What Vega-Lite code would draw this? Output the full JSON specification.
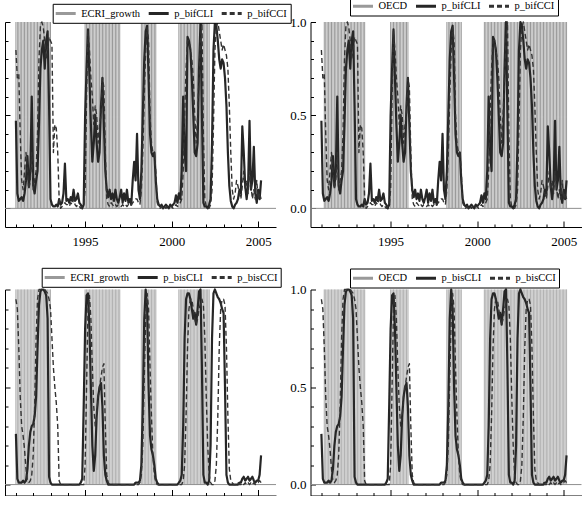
{
  "$schema": "https://vega.github.io/schema/vega-lite/v6.json",
  "padding": {"left": 4, "top": -4, "right": 0, "bottom": 0},
  "columns": 2,
  "spacing": {"row": 62.5, "column": 34.5},
  "bounds": "flush",
  "resolve": {"scale": {"color": "independent", "strokeDash": "independent"}},
  "datasets": {
    "monthly": [
      {"year":1991,"p_bifCLI":0.47,"p_bifCCI":0.85,"p_bisCLI":0.26,"p_bisCCI":0.95,"ECRI_growth":1,"OECD":0},
      {"year":1991.083,"p_bifCLI":0.08,"p_bifCCI":0.7,"p_bisCLI":0.03,"p_bisCCI":0.9,"ECRI_growth":1,"OECD":0},
      {"year":1991.167,"p_bifCLI":0.04,"p_bifCCI":0.72,"p_bisCLI":0.01,"p_bisCCI":0.7,"ECRI_growth":1,"OECD":1},
      {"year":1991.25,"p_bifCLI":0.05,"p_bifCCI":0.4,"p_bisCLI":0.01,"p_bisCCI":0.45,"ECRI_growth":1,"OECD":1},
      {"year":1991.333,"p_bifCLI":0.06,"p_bifCCI":0.15,"p_bisCLI":0.01,"p_bisCCI":0.3,"ECRI_growth":1,"OECD":1},
      {"year":1991.417,"p_bifCLI":0.04,"p_bifCCI":0.1,"p_bisCLI":0.02,"p_bisCCI":0.25,"ECRI_growth":1,"OECD":1},
      {"year":1991.5,"p_bifCLI":0.08,"p_bifCCI":0.2,"p_bisCLI":0.01,"p_bisCCI":0.18,"ECRI_growth":1,"OECD":1},
      {"year":1991.583,"p_bifCLI":0.15,"p_bifCCI":0.3,"p_bisCLI":0.02,"p_bisCCI":0.08,"ECRI_growth":1,"OECD":1},
      {"year":1991.667,"p_bifCLI":0.28,"p_bifCCI":0.2,"p_bisCLI":0.08,"p_bisCCI":0.02,"ECRI_growth":1,"OECD":1},
      {"year":1991.75,"p_bifCLI":0.12,"p_bifCCI":0.1,"p_bisCLI":0.2,"p_bisCCI":0.01,"ECRI_growth":1,"OECD":1},
      {"year":1991.833,"p_bifCLI":0.2,"p_bifCCI":0.15,"p_bisCLI":0.27,"p_bisCCI":0.02,"ECRI_growth":1,"OECD":1},
      {"year":1991.917,"p_bifCLI":0.6,"p_bifCCI":0.3,"p_bisCLI":0.3,"p_bisCCI":0.05,"ECRI_growth":1,"OECD":1},
      {"year":1992,"p_bifCLI":0.12,"p_bifCCI":0.1,"p_bisCLI":0.31,"p_bisCCI":0.15,"ECRI_growth":1,"OECD":1},
      {"year":1992.083,"p_bifCLI":0.08,"p_bifCCI":0.15,"p_bisCLI":0.35,"p_bisCCI":0.4,"ECRI_growth":1,"OECD":1},
      {"year":1992.167,"p_bifCLI":0.15,"p_bifCCI":0.2,"p_bisCLI":0.45,"p_bisCCI":0.75,"ECRI_growth":1,"OECD":1},
      {"year":1992.25,"p_bifCLI":0.2,"p_bifCCI":0.4,"p_bisCLI":0.7,"p_bisCCI":0.95,"ECRI_growth":1,"OECD":1},
      {"year":1992.333,"p_bifCLI":0.45,"p_bifCCI":0.8,"p_bisCLI":0.92,"p_bisCCI":1,"ECRI_growth":1,"OECD":1},
      {"year":1992.417,"p_bifCLI":0.75,"p_bifCCI":0.98,"p_bisCLI":0.99,"p_bisCCI":1,"ECRI_growth":1,"OECD":1},
      {"year":1992.5,"p_bifCLI":0.85,"p_bifCCI":1,"p_bisCLI":1,"p_bisCCI":1,"ECRI_growth":1,"OECD":1},
      {"year":1992.583,"p_bifCLI":0.9,"p_bifCCI":0.97,"p_bisCLI":1,"p_bisCCI":1,"ECRI_growth":1,"OECD":1},
      {"year":1992.667,"p_bifCLI":0.75,"p_bifCCI":0.9,"p_bisCLI":0.99,"p_bisCCI":1,"ECRI_growth":1,"OECD":1},
      {"year":1992.75,"p_bifCLI":0.9,"p_bifCCI":0.8,"p_bisCLI":0.97,"p_bisCCI":0.99,"ECRI_growth":1,"OECD":1},
      {"year":1992.833,"p_bifCLI":0.95,"p_bifCCI":0.85,"p_bisCLI":0.85,"p_bisCCI":0.98,"ECRI_growth":1,"OECD":1},
      {"year":1992.917,"p_bifCLI":0.55,"p_bifCCI":0.92,"p_bisCLI":0.04,"p_bisCCI":0.95,"ECRI_growth":1,"OECD":1},
      {"year":1993,"p_bifCLI":0.05,"p_bifCCI":0.9,"p_bisCLI":0.01,"p_bisCCI":0.9,"ECRI_growth":1,"OECD":1},
      {"year":1993.083,"p_bifCLI":0.02,"p_bifCCI":0.88,"p_bisCLI":0,"p_bisCCI":0.75,"ECRI_growth":0,"OECD":1},
      {"year":1993.167,"p_bifCLI":0.01,"p_bifCCI":0.3,"p_bisCLI":0,"p_bisCCI":0.6,"ECRI_growth":0,"OECD":1},
      {"year":1993.25,"p_bifCLI":0.01,"p_bifCCI":0.45,"p_bisCLI":0,"p_bisCCI":0.5,"ECRI_growth":0,"OECD":1},
      {"year":1993.333,"p_bifCLI":0.02,"p_bifCCI":0.43,"p_bisCLI":0,"p_bisCCI":0.42,"ECRI_growth":0,"OECD":1},
      {"year":1993.417,"p_bifCLI":0.01,"p_bifCCI":0.3,"p_bisCLI":0,"p_bisCCI":0.3,"ECRI_growth":0,"OECD":1},
      {"year":1993.5,"p_bifCLI":0.05,"p_bifCCI":0.05,"p_bisCLI":0,"p_bisCCI":0.02,"ECRI_growth":0,"OECD":1},
      {"year":1993.583,"p_bifCLI":0.02,"p_bifCCI":0,"p_bisCLI":0,"p_bisCCI":0,"ECRI_growth":0,"OECD":0},
      {"year":1993.667,"p_bifCLI":0.03,"p_bifCCI":0.01,"p_bisCLI":0,"p_bisCCI":0,"ECRI_growth":0,"OECD":0},
      {"year":1993.75,"p_bifCLI":0.08,"p_bifCCI":0.02,"p_bisCLI":0,"p_bisCCI":0,"ECRI_growth":0,"OECD":0},
      {"year":1993.833,"p_bifCLI":0.24,"p_bifCCI":0.03,"p_bisCLI":0,"p_bisCCI":0,"ECRI_growth":0,"OECD":0},
      {"year":1993.917,"p_bifCLI":0.04,"p_bifCCI":0.02,"p_bisCLI":0,"p_bisCCI":0,"ECRI_growth":0,"OECD":0},
      {"year":1994,"p_bifCLI":0.05,"p_bifCCI":0.02,"p_bisCLI":0,"p_bisCCI":0,"ECRI_growth":0,"OECD":0},
      {"year":1994.083,"p_bifCLI":0.03,"p_bifCCI":0.01,"p_bisCLI":0,"p_bisCCI":0,"ECRI_growth":0,"OECD":0},
      {"year":1994.167,"p_bifCLI":0.06,"p_bifCCI":0.03,"p_bisCLI":0,"p_bisCCI":0,"ECRI_growth":0,"OECD":0},
      {"year":1994.25,"p_bifCLI":0.04,"p_bifCCI":0.02,"p_bisCLI":0,"p_bisCCI":0,"ECRI_growth":0,"OECD":0},
      {"year":1994.333,"p_bifCLI":0.1,"p_bifCCI":0.05,"p_bisCLI":0,"p_bisCCI":0,"ECRI_growth":0,"OECD":0},
      {"year":1994.417,"p_bifCLI":0.04,"p_bifCCI":0.02,"p_bisCLI":0,"p_bisCCI":0,"ECRI_growth":0,"OECD":0},
      {"year":1994.5,"p_bifCLI":0.05,"p_bifCCI":0.01,"p_bisCLI":0,"p_bisCCI":0,"ECRI_growth":0,"OECD":0},
      {"year":1994.583,"p_bifCLI":0.08,"p_bifCCI":0.02,"p_bisCLI":0,"p_bisCCI":0,"ECRI_growth":0,"OECD":0},
      {"year":1994.667,"p_bifCLI":0.03,"p_bifCCI":0.01,"p_bisCLI":0,"p_bisCCI":0,"ECRI_growth":0,"OECD":0},
      {"year":1994.75,"p_bifCLI":0.02,"p_bifCCI":0,"p_bisCLI":0.01,"p_bisCCI":0,"ECRI_growth":0,"OECD":0},
      {"year":1994.833,"p_bifCLI":0,"p_bifCCI":0.01,"p_bisCLI":0.03,"p_bisCCI":0,"ECRI_growth":0,"OECD":0},
      {"year":1994.917,"p_bifCLI":0.02,"p_bifCCI":0.02,"p_bisCLI":0.4,"p_bisCCI":0,"ECRI_growth":0,"OECD":0},
      {"year":1995,"p_bifCLI":0.5,"p_bifCCI":0.1,"p_bisCLI":0.8,"p_bisCCI":0.1,"ECRI_growth":1,"OECD":1},
      {"year":1995.083,"p_bifCLI":0.75,"p_bifCCI":0.6,"p_bisCLI":0.97,"p_bisCCI":0.5,"ECRI_growth":1,"OECD":1},
      {"year":1995.167,"p_bifCLI":0.96,"p_bifCCI":0.95,"p_bisCLI":0.98,"p_bisCCI":0.9,"ECRI_growth":1,"OECD":1},
      {"year":1995.25,"p_bifCLI":0.7,"p_bifCCI":0.85,"p_bisCLI":0.8,"p_bisCCI":0.97,"ECRI_growth":1,"OECD":1},
      {"year":1995.333,"p_bifCLI":0.45,"p_bifCCI":0.7,"p_bisCLI":0.5,"p_bisCCI":0.85,"ECRI_growth":1,"OECD":1},
      {"year":1995.417,"p_bifCLI":0.25,"p_bifCCI":0.6,"p_bisCLI":0.2,"p_bisCCI":0.6,"ECRI_growth":1,"OECD":1},
      {"year":1995.5,"p_bifCLI":0.35,"p_bifCCI":0.45,"p_bisCLI":0.07,"p_bisCCI":0.4,"ECRI_growth":1,"OECD":1},
      {"year":1995.583,"p_bifCLI":0.5,"p_bifCCI":0.55,"p_bisCLI":0.15,"p_bisCCI":0.3,"ECRI_growth":1,"OECD":1},
      {"year":1995.667,"p_bifCLI":0.35,"p_bifCCI":0.5,"p_bisCLI":0.35,"p_bisCCI":0.35,"ECRI_growth":1,"OECD":1},
      {"year":1995.75,"p_bifCLI":0.25,"p_bifCCI":0.35,"p_bisCLI":0.45,"p_bisCCI":0.45,"ECRI_growth":1,"OECD":1},
      {"year":1995.833,"p_bifCLI":0.3,"p_bifCCI":0.45,"p_bisCLI":0.5,"p_bisCCI":0.5,"ECRI_growth":1,"OECD":1},
      {"year":1995.917,"p_bifCLI":0.55,"p_bifCCI":0.5,"p_bisCLI":0.52,"p_bisCCI":0.55,"ECRI_growth":1,"OECD":1},
      {"year":1996,"p_bifCLI":0.7,"p_bifCCI":0.7,"p_bisCLI":0.4,"p_bisCCI":0.6,"ECRI_growth":1,"OECD":1},
      {"year":1996.083,"p_bifCLI":0.45,"p_bifCCI":0.65,"p_bisCLI":0.15,"p_bisCCI":0.62,"ECRI_growth":1,"OECD":0},
      {"year":1996.167,"p_bifCLI":0.2,"p_bifCCI":0.3,"p_bisCLI":0.05,"p_bisCCI":0.3,"ECRI_growth":1,"OECD":0},
      {"year":1996.25,"p_bifCLI":0.1,"p_bifCCI":0.05,"p_bisCLI":0.02,"p_bisCCI":0.05,"ECRI_growth":1,"OECD":0},
      {"year":1996.333,"p_bifCLI":0.06,"p_bifCCI":0.02,"p_bisCLI":0,"p_bisCCI":0.01,"ECRI_growth":1,"OECD":0},
      {"year":1996.417,"p_bifCLI":0.1,"p_bifCCI":0.01,"p_bisCLI":0,"p_bisCCI":0,"ECRI_growth":1,"OECD":0},
      {"year":1996.5,"p_bifCLI":0.05,"p_bifCCI":0.03,"p_bisCLI":0,"p_bisCCI":0,"ECRI_growth":1,"OECD":0},
      {"year":1996.583,"p_bifCLI":0.08,"p_bifCCI":0.02,"p_bisCLI":0,"p_bisCCI":0,"ECRI_growth":1,"OECD":0},
      {"year":1996.667,"p_bifCLI":0.04,"p_bifCCI":0.01,"p_bisCLI":0,"p_bisCCI":0,"ECRI_growth":1,"OECD":0},
      {"year":1996.75,"p_bifCLI":0.1,"p_bifCCI":0.02,"p_bisCLI":0,"p_bisCCI":0,"ECRI_growth":1,"OECD":0},
      {"year":1996.833,"p_bifCLI":0.05,"p_bifCCI":0.01,"p_bisCLI":0,"p_bisCCI":0,"ECRI_growth":1,"OECD":0},
      {"year":1996.917,"p_bifCLI":0.03,"p_bifCCI":0.02,"p_bisCLI":0,"p_bisCCI":0,"ECRI_growth":1,"OECD":0},
      {"year":1997,"p_bifCLI":0.06,"p_bifCCI":0.02,"p_bisCLI":0,"p_bisCCI":0,"ECRI_growth":1,"OECD":0},
      {"year":1997.083,"p_bifCLI":0.1,"p_bifCCI":0.01,"p_bisCLI":0,"p_bisCCI":0,"ECRI_growth":0,"OECD":0},
      {"year":1997.167,"p_bifCLI":0.03,"p_bifCCI":0.02,"p_bisCLI":0,"p_bisCCI":0,"ECRI_growth":0,"OECD":0},
      {"year":1997.25,"p_bifCLI":0.08,"p_bifCCI":0.01,"p_bisCLI":0,"p_bisCCI":0,"ECRI_growth":0,"OECD":0},
      {"year":1997.333,"p_bifCLI":0.04,"p_bifCCI":0.02,"p_bisCLI":0,"p_bisCCI":0,"ECRI_growth":0,"OECD":0},
      {"year":1997.417,"p_bifCLI":0.1,"p_bifCCI":0.01,"p_bisCLI":0,"p_bisCCI":0,"ECRI_growth":0,"OECD":0},
      {"year":1997.5,"p_bifCLI":0.03,"p_bifCCI":0.02,"p_bisCLI":0,"p_bisCCI":0,"ECRI_growth":0,"OECD":0},
      {"year":1997.583,"p_bifCLI":0.05,"p_bifCCI":0.01,"p_bisCLI":0,"p_bisCCI":0,"ECRI_growth":0,"OECD":0},
      {"year":1997.667,"p_bifCLI":0.02,"p_bifCCI":0.02,"p_bisCLI":0,"p_bisCCI":0,"ECRI_growth":0,"OECD":0},
      {"year":1997.75,"p_bifCLI":0.15,"p_bifCCI":0.03,"p_bisCLI":0,"p_bisCCI":0,"ECRI_growth":0,"OECD":0},
      {"year":1997.833,"p_bifCLI":0.25,"p_bifCCI":0.04,"p_bisCLI":0,"p_bisCCI":0,"ECRI_growth":0,"OECD":0},
      {"year":1997.917,"p_bifCLI":0.15,"p_bifCCI":0.05,"p_bisCLI":0.01,"p_bisCCI":0,"ECRI_growth":0,"OECD":0},
      {"year":1998,"p_bifCLI":0.4,"p_bifCCI":0.05,"p_bisCLI":0.01,"p_bisCCI":0,"ECRI_growth":0,"OECD":0},
      {"year":1998.083,"p_bifCLI":0.1,"p_bifCCI":0.03,"p_bisCLI":0.01,"p_bisCCI":0,"ECRI_growth":0,"OECD":0},
      {"year":1998.167,"p_bifCLI":0.05,"p_bifCCI":0.02,"p_bisCLI":0.02,"p_bisCCI":0.01,"ECRI_growth":0,"OECD":0},
      {"year":1998.25,"p_bifCLI":0.2,"p_bifCCI":0.1,"p_bisCLI":0.1,"p_bisCCI":0.05,"ECRI_growth":1,"OECD":1},
      {"year":1998.333,"p_bifCLI":0.5,"p_bifCCI":0.3,"p_bisCLI":0.4,"p_bisCCI":0.2,"ECRI_growth":1,"OECD":1},
      {"year":1998.417,"p_bifCLI":0.8,"p_bifCCI":0.6,"p_bisCLI":0.85,"p_bisCCI":0.55,"ECRI_growth":1,"OECD":1},
      {"year":1998.5,"p_bifCLI":0.95,"p_bifCCI":0.85,"p_bisCLI":1,"p_bisCCI":0.85,"ECRI_growth":1,"OECD":1},
      {"year":1998.583,"p_bifCLI":0.98,"p_bifCCI":0.97,"p_bisCLI":0.9,"p_bisCCI":0.98,"ECRI_growth":1,"OECD":1},
      {"year":1998.667,"p_bifCLI":0.7,"p_bifCCI":0.9,"p_bisCLI":0.5,"p_bisCCI":0.9,"ECRI_growth":1,"OECD":1},
      {"year":1998.75,"p_bifCLI":0.4,"p_bifCCI":0.5,"p_bisCLI":0.25,"p_bisCCI":0.6,"ECRI_growth":1,"OECD":1},
      {"year":1998.833,"p_bifCLI":0.3,"p_bifCCI":0.35,"p_bisCLI":0.18,"p_bisCCI":0.35,"ECRI_growth":1,"OECD":1},
      {"year":1998.917,"p_bifCLI":0.28,"p_bifCCI":0.3,"p_bisCLI":0.15,"p_bisCCI":0.15,"ECRI_growth":1,"OECD":1},
      {"year":1999,"p_bifCLI":0.3,"p_bifCCI":0.3,"p_bisCLI":0.1,"p_bisCCI":0.05,"ECRI_growth":1,"OECD":1},
      {"year":1999.083,"p_bifCLI":0.15,"p_bifCCI":0.2,"p_bisCLI":0.03,"p_bisCCI":0.01,"ECRI_growth":1,"OECD":1},
      {"year":1999.167,"p_bifCLI":0.05,"p_bifCCI":0.03,"p_bisCLI":0.01,"p_bisCCI":0,"ECRI_growth":0,"OECD":0},
      {"year":1999.25,"p_bifCLI":0.02,"p_bifCCI":0.01,"p_bisCLI":0,"p_bisCCI":0,"ECRI_growth":0,"OECD":0},
      {"year":1999.333,"p_bifCLI":0.01,"p_bifCCI":0,"p_bisCLI":0,"p_bisCCI":0,"ECRI_growth":0,"OECD":0},
      {"year":1999.417,"p_bifCLI":0.02,"p_bifCCI":0.01,"p_bisCLI":0,"p_bisCCI":0,"ECRI_growth":0,"OECD":0},
      {"year":1999.5,"p_bifCLI":0,"p_bifCCI":0,"p_bisCLI":0,"p_bisCCI":0,"ECRI_growth":0,"OECD":0},
      {"year":1999.583,"p_bifCLI":0.01,"p_bifCCI":0.01,"p_bisCLI":0,"p_bisCCI":0,"ECRI_growth":0,"OECD":0},
      {"year":1999.667,"p_bifCLI":0.02,"p_bifCCI":0,"p_bisCLI":0,"p_bisCCI":0,"ECRI_growth":0,"OECD":0},
      {"year":1999.75,"p_bifCLI":0.01,"p_bifCCI":0.01,"p_bisCLI":0,"p_bisCCI":0,"ECRI_growth":0,"OECD":0},
      {"year":1999.833,"p_bifCLI":0,"p_bifCCI":0,"p_bisCLI":0,"p_bisCCI":0,"ECRI_growth":0,"OECD":0},
      {"year":1999.917,"p_bifCLI":0.02,"p_bifCCI":0.01,"p_bisCLI":0,"p_bisCCI":0,"ECRI_growth":0,"OECD":0},
      {"year":2000,"p_bifCLI":0.01,"p_bifCCI":0.01,"p_bisCLI":0,"p_bisCCI":0,"ECRI_growth":0,"OECD":0},
      {"year":2000.083,"p_bifCLI":0.02,"p_bifCCI":0,"p_bisCLI":0,"p_bisCCI":0,"ECRI_growth":0,"OECD":0},
      {"year":2000.167,"p_bifCLI":0.03,"p_bifCCI":0.01,"p_bisCLI":0,"p_bisCCI":0,"ECRI_growth":0,"OECD":0},
      {"year":2000.25,"p_bifCLI":0.07,"p_bifCCI":0.02,"p_bisCLI":0,"p_bisCCI":0,"ECRI_growth":0,"OECD":0},
      {"year":2000.333,"p_bifCLI":0.03,"p_bifCCI":0.01,"p_bisCLI":0,"p_bisCCI":0,"ECRI_growth":0,"OECD":0},
      {"year":2000.417,"p_bifCLI":0.08,"p_bifCCI":0.02,"p_bisCLI":0.01,"p_bisCCI":0,"ECRI_growth":1,"OECD":1},
      {"year":2000.5,"p_bifCLI":0.05,"p_bifCCI":0.03,"p_bisCLI":0.02,"p_bisCCI":0,"ECRI_growth":1,"OECD":1},
      {"year":2000.583,"p_bifCLI":0.2,"p_bifCCI":0.05,"p_bisCLI":0.05,"p_bisCCI":0,"ECRI_growth":1,"OECD":1},
      {"year":2000.667,"p_bifCLI":0.6,"p_bifCCI":0.2,"p_bisCLI":0.3,"p_bisCCI":0.02,"ECRI_growth":1,"OECD":1},
      {"year":2000.75,"p_bifCLI":0.3,"p_bifCCI":0.5,"p_bisCLI":0.75,"p_bisCCI":0.1,"ECRI_growth":1,"OECD":1},
      {"year":2000.833,"p_bifCLI":0.2,"p_bifCCI":0.75,"p_bisCLI":0.95,"p_bisCCI":0.35,"ECRI_growth":1,"OECD":1},
      {"year":2000.917,"p_bifCLI":0.92,"p_bifCCI":0.9,"p_bisCLI":0.98,"p_bisCCI":0.7,"ECRI_growth":1,"OECD":1},
      {"year":2001,"p_bifCLI":0.9,"p_bifCCI":0.9,"p_bisCLI":0.98,"p_bisCCI":0.9,"ECRI_growth":1,"OECD":1},
      {"year":2001.083,"p_bifCLI":0.85,"p_bifCCI":0.85,"p_bisCLI":0.95,"p_bisCCI":0.95,"ECRI_growth":1,"OECD":1},
      {"year":2001.167,"p_bifCLI":0.7,"p_bifCCI":0.8,"p_bisCLI":0.9,"p_bisCCI":0.95,"ECRI_growth":1,"OECD":1},
      {"year":2001.25,"p_bifCLI":0.5,"p_bifCCI":0.7,"p_bisCLI":0.85,"p_bisCCI":0.9,"ECRI_growth":1,"OECD":1},
      {"year":2001.333,"p_bifCLI":0.3,"p_bifCCI":0.5,"p_bisCLI":0.88,"p_bisCCI":0.85,"ECRI_growth":1,"OECD":1},
      {"year":2001.417,"p_bifCLI":0.28,"p_bifCCI":0.35,"p_bisCLI":0.82,"p_bisCCI":0.82,"ECRI_growth":1,"OECD":1},
      {"year":2001.5,"p_bifCLI":0.35,"p_bifCCI":0.5,"p_bisCLI":0.9,"p_bisCCI":0.85,"ECRI_growth":1,"OECD":1},
      {"year":2001.583,"p_bifCLI":0.75,"p_bifCCI":0.7,"p_bisCLI":0.99,"p_bisCCI":0.9,"ECRI_growth":1,"OECD":1},
      {"year":2001.667,"p_bifCLI":1,"p_bifCCI":0.9,"p_bisCLI":1,"p_bisCCI":0.93,"ECRI_growth":1,"OECD":1},
      {"year":2001.75,"p_bifCLI":0.5,"p_bifCCI":1,"p_bisCLI":0.6,"p_bisCCI":0.95,"ECRI_growth":1,"OECD":1},
      {"year":2001.833,"p_bifCLI":0.03,"p_bifCCI":0.4,"p_bisCLI":0.05,"p_bisCCI":0.92,"ECRI_growth":1,"OECD":1},
      {"year":2001.917,"p_bifCLI":0.01,"p_bifCCI":0.05,"p_bisCLI":0.01,"p_bisCCI":0.75,"ECRI_growth":1,"OECD":1},
      {"year":2002,"p_bifCLI":0.01,"p_bifCCI":0.01,"p_bisCLI":0.01,"p_bisCCI":0.45,"ECRI_growth":1,"OECD":1},
      {"year":2002.083,"p_bifCLI":0,"p_bifCCI":0,"p_bisCLI":0,"p_bisCCI":0.2,"ECRI_growth":1,"OECD":1},
      {"year":2002.167,"p_bifCLI":0.02,"p_bifCCI":0,"p_bisCLI":0.02,"p_bisCCI":0.05,"ECRI_growth":1,"OECD":1},
      {"year":2002.25,"p_bifCLI":0.05,"p_bifCCI":0.02,"p_bisCLI":0.2,"p_bisCCI":0.01,"ECRI_growth":0,"OECD":1},
      {"year":2002.333,"p_bifCLI":0.35,"p_bifCCI":0.1,"p_bisCLI":0.75,"p_bisCCI":0,"ECRI_growth":0,"OECD":1},
      {"year":2002.417,"p_bifCLI":0.85,"p_bifCCI":0.45,"p_bisCLI":0.98,"p_bisCCI":0,"ECRI_growth":0,"OECD":1},
      {"year":2002.5,"p_bifCLI":1,"p_bifCCI":0.85,"p_bisCLI":1,"p_bisCCI":0.02,"ECRI_growth":0,"OECD":1},
      {"year":2002.583,"p_bifCLI":0.98,"p_bifCCI":0.97,"p_bisCLI":0.98,"p_bisCCI":0.1,"ECRI_growth":0,"OECD":1},
      {"year":2002.667,"p_bifCLI":0.9,"p_bifCCI":1,"p_bisCLI":0.96,"p_bisCCI":0.35,"ECRI_growth":0,"OECD":1},
      {"year":2002.75,"p_bifCLI":0.8,"p_bifCCI":0.95,"p_bisCLI":0.95,"p_bisCCI":0.7,"ECRI_growth":0,"OECD":1},
      {"year":2002.833,"p_bifCLI":0.75,"p_bifCCI":0.9,"p_bisCLI":0.93,"p_bisCCI":0.9,"ECRI_growth":0,"OECD":1},
      {"year":2002.917,"p_bifCLI":0.8,"p_bifCCI":0.85,"p_bisCLI":0.9,"p_bisCCI":0.95,"ECRI_growth":0,"OECD":1},
      {"year":2003,"p_bifCLI":0.78,"p_bifCCI":0.88,"p_bisCLI":0.88,"p_bisCCI":0.95,"ECRI_growth":0,"OECD":1},
      {"year":2003.083,"p_bifCLI":0.7,"p_bifCCI":0.85,"p_bisCLI":0.5,"p_bisCCI":0.92,"ECRI_growth":0,"OECD":1},
      {"year":2003.167,"p_bifCLI":0.55,"p_bifCCI":0.82,"p_bisCLI":0.05,"p_bisCCI":0.7,"ECRI_growth":0,"OECD":1},
      {"year":2003.25,"p_bifCLI":0.3,"p_bifCCI":0.75,"p_bisCLI":0.01,"p_bisCCI":0.35,"ECRI_growth":0,"OECD":1},
      {"year":2003.333,"p_bifCLI":0.12,"p_bifCCI":0.55,"p_bisCLI":0,"p_bisCCI":0.08,"ECRI_growth":0,"OECD":1},
      {"year":2003.417,"p_bifCLI":0.04,"p_bifCCI":0.3,"p_bisCLI":0,"p_bisCCI":0.02,"ECRI_growth":0,"OECD":1},
      {"year":2003.5,"p_bifCLI":0.01,"p_bifCCI":0.1,"p_bisCLI":0,"p_bisCCI":0.01,"ECRI_growth":0,"OECD":1},
      {"year":2003.583,"p_bifCLI":0,"p_bifCCI":0.05,"p_bisCLI":0,"p_bisCCI":0,"ECRI_growth":0,"OECD":1},
      {"year":2003.667,"p_bifCLI":0.02,"p_bifCCI":0.08,"p_bisCLI":0,"p_bisCCI":0,"ECRI_growth":0,"OECD":1},
      {"year":2003.75,"p_bifCLI":0.03,"p_bifCCI":0.15,"p_bisCLI":0,"p_bisCCI":0,"ECRI_growth":0,"OECD":1},
      {"year":2003.833,"p_bifCLI":0.05,"p_bifCCI":0.12,"p_bisCLI":0,"p_bisCCI":0.01,"ECRI_growth":0,"OECD":1},
      {"year":2003.917,"p_bifCLI":0.1,"p_bifCCI":0.08,"p_bisCLI":0.01,"p_bisCCI":0,"ECRI_growth":0,"OECD":1},
      {"year":2004,"p_bifCLI":0.08,"p_bifCCI":0.05,"p_bisCLI":0.01,"p_bisCCI":0,"ECRI_growth":0,"OECD":1},
      {"year":2004.083,"p_bifCLI":0.44,"p_bifCCI":0.12,"p_bisCLI":0.03,"p_bisCCI":0.01,"ECRI_growth":0,"OECD":1},
      {"year":2004.167,"p_bifCLI":0.3,"p_bifCCI":0.2,"p_bisCLI":0.04,"p_bisCCI":0,"ECRI_growth":0,"OECD":1},
      {"year":2004.25,"p_bifCLI":0.12,"p_bifCCI":0.1,"p_bisCLI":0.02,"p_bisCCI":0.01,"ECRI_growth":0,"OECD":1},
      {"year":2004.333,"p_bifCLI":0.05,"p_bifCCI":0.15,"p_bisCLI":0.03,"p_bisCCI":0,"ECRI_growth":0,"OECD":1},
      {"year":2004.417,"p_bifCLI":0.12,"p_bifCCI":0.08,"p_bisCLI":0.04,"p_bisCCI":0.01,"ECRI_growth":0,"OECD":1},
      {"year":2004.5,"p_bifCLI":0.47,"p_bifCCI":0.2,"p_bisCLI":0.02,"p_bisCCI":0,"ECRI_growth":0,"OECD":1},
      {"year":2004.583,"p_bifCLI":0.1,"p_bifCCI":0.12,"p_bisCLI":0.03,"p_bisCCI":0.01,"ECRI_growth":0,"OECD":1},
      {"year":2004.667,"p_bifCLI":0.15,"p_bifCCI":0.05,"p_bisCLI":0.04,"p_bisCCI":0,"ECRI_growth":0,"OECD":1},
      {"year":2004.75,"p_bifCLI":0.33,"p_bifCCI":0.1,"p_bisCLI":0.02,"p_bisCCI":0.01,"ECRI_growth":0,"OECD":1},
      {"year":2004.833,"p_bifCLI":0.08,"p_bifCCI":0.05,"p_bisCLI":0.01,"p_bisCCI":0,"ECRI_growth":0,"OECD":1},
      {"year":2004.917,"p_bifCLI":0.03,"p_bifCCI":0.15,"p_bisCLI":0.02,"p_bisCCI":0.01,"ECRI_growth":0,"OECD":1},
      {"year":2005,"p_bifCLI":0.1,"p_bifCCI":0.05,"p_bisCLI":0.02,"p_bisCCI":0.01,"ECRI_growth":0,"OECD":1},
      {"year":2005.083,"p_bifCLI":0.05,"p_bifCCI":0.08,"p_bisCLI":0.05,"p_bisCCI":0.02,"ECRI_growth":0,"OECD":1},
      {"year":2005.167,"p_bifCLI":0.15,"p_bifCCI":0.05,"p_bisCLI":0.15,"p_bisCCI":0.01,"ECRI_growth":0,"OECD":1}
    ]
  },
  "concat": [
    {
      "width": 271,
      "height": 205,
      "data": {"name": "monthly"},
      "resolve": {"axis": {"x": "independent", "y": "independent"}},
      "layer": [
        {
          "transform": [{"fold": ["ECRI_growth"], "as": ["series", "on"]}, {"filter": "datum.on == 1"}],
          "mark": {"type": "rule", "strokeWidth": 1},
          "encoding": {
            "x": {"field": "year", "type": "quantitative", "title": null,
              "scale": {"domain": [1990.37, 2006.03], "nice": false, "zero": false},
              "axis": {"orient": "bottom", "values": [1991,1992,1993,1994,1996,1997,1998,1999,2001,2002,2003,2004], "labels": false, "tickSize": -3}},
            "y": {"field": "on", "type": "quantitative", "title": null,
              "scale": {"domain": [-0.1, 1], "nice": false, "zero": false},
              "axis": {"orient": "left", "values": [0.1,0.2,0.3,0.4,0.6,0.7,0.8,0.9], "labels": false, "tickSize": -3}},
            "y2": {"datum": 0},
            "color": {"field": "series", "type": "nominal",
              "scale": {"domain": ["ECRI_growth", "p_bifCLI", "p_bifCCI"], "range": ["#999999", "#262626", "#333333"]},
              "legend": {"title": null, "orient": "none", "legendX": 47.7, "legendY": -18.2}},
            "strokeDash": {"field": "series", "type": "nominal",
              "scale": {"domain": ["ECRI_growth", "p_bifCLI", "p_bifCCI"], "range": [[1, 0], [1, 0], [5, 3]]},
              "legend": {"title": null, "orient": "none", "legendX": 47.7, "legendY": -18.2}}
          }
        },
        {
          "data": {"values": [{}]},
          "mark": {"type": "rule", "color": "#8f8f8f", "strokeWidth": 1},
          "encoding": {"y": {"datum": 0, "axis": null}}
        },
        {
          "transform": [{"fold": ["p_bifCLI", "p_bifCCI"], "as": ["series", "p"]}],
          "mark": {"type": "line", "strokeJoin": "round"},
          "encoding": {
            "x": {"field": "year", "type": "quantitative", "title": null,
              "axis": {"orient": "bottom", "values": [1995, 2000, 2005], "format": "d", "tickSize": -6, "labelPadding": 14.7, "domain": false}},
            "y": {"field": "p", "type": "quantitative", "title": null,
              "axis": {"orient": "left", "values": [0, 0.5, 1], "labels": false, "tickSize": -5, "domain": false}},
            "color": {"field": "series", "type": "nominal"},
            "strokeDash": {"field": "series", "type": "nominal"},
            "strokeWidth": {"condition": {"test": "datum.series == 'p_bifCCI'", "value": 1.4}, "value": 2.2}
          }
        }
      ]
    },
    {
      "width": 271,
      "height": 205,
      "data": {"name": "monthly"},
      "resolve": {"axis": {"x": "independent", "y": "independent"}},
      "layer": [
        {
          "transform": [{"fold": ["OECD"], "as": ["series", "on"]}, {"filter": "datum.on == 1"}],
          "mark": {"type": "rule", "strokeWidth": 1},
          "encoding": {
            "x": {"field": "year", "type": "quantitative", "title": null,
              "scale": {"domain": [1990.37, 2006.03], "nice": false, "zero": false},
              "axis": {"orient": "bottom", "values": [1991,1992,1993,1994,1996,1997,1998,1999,2001,2002,2003,2004], "labels": false, "tickSize": -3}},
            "y": {"field": "on", "type": "quantitative", "title": null,
              "scale": {"domain": [-0.1, 1], "nice": false, "zero": false},
              "axis": {"orient": "left", "values": [0.1,0.2,0.3,0.4,0.6,0.7,0.8,0.9], "labels": false, "tickSize": -3}},
            "y2": {"datum": 0},
            "color": {"field": "series", "type": "nominal",
              "scale": {"domain": ["OECD", "p_bifCLI", "p_bifCCI"], "range": ["#999999", "#262626", "#333333"]},
              "legend": {"title": null, "orient": "none", "legendX": 39.5, "legendY": -25.5}},
            "strokeDash": {"field": "series", "type": "nominal",
              "scale": {"domain": ["OECD", "p_bifCLI", "p_bifCCI"], "range": [[1, 0], [1, 0], [5, 3]]},
              "legend": {"title": null, "orient": "none", "legendX": 39.5, "legendY": -25.5}}
          }
        },
        {
          "data": {"values": [{}]},
          "mark": {"type": "rule", "color": "#8f8f8f", "strokeWidth": 1},
          "encoding": {"y": {"datum": 0, "axis": null}}
        },
        {
          "transform": [{"fold": ["p_bifCLI", "p_bifCCI"], "as": ["series", "p"]}],
          "mark": {"type": "line", "strokeJoin": "round"},
          "encoding": {
            "x": {"field": "year", "type": "quantitative", "title": null,
              "axis": {"orient": "bottom", "values": [1995, 2000, 2005], "format": "d", "tickSize": -6, "labelPadding": 14.7, "domain": false}},
            "y": {"field": "p", "type": "quantitative", "title": null,
              "axis": {"orient": "left", "values": [0, 0.5, 1], "format": ".1f", "tickSize": -5, "labelPadding": 9.5, "domain": false}},
            "color": {"field": "series", "type": "nominal"},
            "strokeDash": {"field": "series", "type": "nominal"},
            "strokeWidth": {"condition": {"test": "datum.series == 'p_bifCCI'", "value": 1.4}, "value": 2.2}
          }
        }
      ]
    },
    {
      "width": 271,
      "height": 206,
      "data": {"name": "monthly"},
      "resolve": {"axis": {"x": "independent", "y": "independent"}},
      "layer": [
        {
          "transform": [{"fold": ["ECRI_growth"], "as": ["series", "on"]}, {"filter": "datum.on == 1"}],
          "mark": {"type": "rule", "strokeWidth": 1},
          "encoding": {
            "x": {"field": "year", "type": "quantitative", "title": null,
              "scale": {"domain": [1990.37, 2006.03], "nice": false, "zero": false},
              "axis": {"orient": "bottom", "values": [1991,1992,1993,1994,1996,1997,1998,1999,2001,2002,2003,2004], "labels": false, "tickSize": -3}},
            "y": {"field": "on", "type": "quantitative", "title": null,
              "scale": {"domain": [-0.056, 1], "nice": false, "zero": false},
              "axis": {"orient": "left", "values": [0.1,0.2,0.3,0.4,0.6,0.7,0.8,0.9], "labels": false, "tickSize": -3}},
            "y2": {"datum": 0},
            "color": {"field": "series", "type": "nominal",
              "scale": {"domain": ["ECRI_growth", "p_bisCLI", "p_bisCCI"], "range": ["#999999", "#262626", "#333333"]},
              "legend": {"title": null, "orient": "none", "legendX": 36.7, "legendY": -21.7}},
            "strokeDash": {"field": "series", "type": "nominal",
              "scale": {"domain": ["ECRI_growth", "p_bisCLI", "p_bisCCI"], "range": [[1, 0], [1, 0], [5, 3]]},
              "legend": {"title": null, "orient": "none", "legendX": 36.7, "legendY": -21.7}}
          }
        },
        {
          "data": {"values": [{}]},
          "mark": {"type": "rule", "color": "#8f8f8f", "strokeWidth": 1},
          "encoding": {"y": {"datum": 0, "axis": null}}
        },
        {
          "transform": [{"fold": ["p_bisCLI", "p_bisCCI"], "as": ["series", "p"]}],
          "mark": {"type": "line", "strokeJoin": "round"},
          "encoding": {
            "x": {"field": "year", "type": "quantitative", "title": null,
              "axis": {"orient": "bottom", "values": [1995, 2000, 2005], "labels": false, "tickSize": -6, "domain": false}},
            "y": {"field": "p", "type": "quantitative", "title": null,
              "axis": {"orient": "left", "values": [0, 0.5, 1], "labels": false, "tickSize": -5, "domain": false}},
            "color": {"field": "series", "type": "nominal"},
            "strokeDash": {"field": "series", "type": "nominal"},
            "strokeWidth": {"condition": {"test": "datum.series == 'p_bisCCI'", "value": 1.4}, "value": 2.2}
          }
        }
      ]
    },
    {
      "width": 271,
      "height": 206,
      "data": {"name": "monthly"},
      "resolve": {"axis": {"x": "independent", "y": "independent"}},
      "layer": [
        {
          "transform": [{"fold": ["OECD"], "as": ["series", "on"]}, {"filter": "datum.on == 1"}],
          "mark": {"type": "rule", "strokeWidth": 1},
          "encoding": {
            "x": {"field": "year", "type": "quantitative", "title": null,
              "scale": {"domain": [1990.37, 2006.03], "nice": false, "zero": false},
              "axis": {"orient": "bottom", "values": [1991,1992,1993,1994,1996,1997,1998,1999,2001,2002,2003,2004], "labels": false, "tickSize": -3}},
            "y": {"field": "on", "type": "quantitative", "title": null,
              "scale": {"domain": [-0.056, 1], "nice": false, "zero": false},
              "axis": {"orient": "left", "values": [0.1,0.2,0.3,0.4,0.6,0.7,0.8,0.9], "labels": false, "tickSize": -3}},
            "y2": {"datum": 0},
            "color": {"field": "series", "type": "nominal",
              "scale": {"domain": ["OECD", "p_bisCLI", "p_bisCCI"], "range": ["#999999", "#262626", "#333333"]},
              "legend": {"title": null, "orient": "none", "legendX": 39.5, "legendY": -21}},
            "strokeDash": {"field": "series", "type": "nominal",
              "scale": {"domain": ["OECD", "p_bisCLI", "p_bisCCI"], "range": [[1, 0], [1, 0], [5, 3]]},
              "legend": {"title": null, "orient": "none", "legendX": 39.5, "legendY": -21}}
          }
        },
        {
          "data": {"values": [{}]},
          "mark": {"type": "rule", "color": "#8f8f8f", "strokeWidth": 1},
          "encoding": {"y": {"datum": 0, "axis": null}}
        },
        {
          "transform": [{"fold": ["p_bisCLI", "p_bisCCI"], "as": ["series", "p"]}],
          "mark": {"type": "line", "strokeJoin": "round"},
          "encoding": {
            "x": {"field": "year", "type": "quantitative", "title": null,
              "axis": {"orient": "bottom", "values": [1995, 2000, 2005], "labels": false, "tickSize": -6, "domain": false}},
            "y": {"field": "p", "type": "quantitative", "title": null,
              "axis": {"orient": "left", "values": [0, 0.5, 1], "format": ".1f", "tickSize": -5, "labelPadding": 9.5, "domain": false}},
            "color": {"field": "series", "type": "nominal"},
            "strokeDash": {"field": "series", "type": "nominal"},
            "strokeWidth": {"condition": {"test": "datum.series == 'p_bisCCI'", "value": 1.4}, "value": 2.2}
          }
        }
      ]
    }
  ],
  "config": {
    "font": "Liberation Serif",
    "view": {"stroke": null},
    "axis": {
      "grid": false,
      "domainColor": "#000000",
      "domainWidth": 1,
      "tickColor": "#000000",
      "tickWidth": 1,
      "labelFont": "Liberation Serif",
      "labelFontSize": 13,
      "labelColor": "#000000",
      "labelFlush": false,
      "labelOverlap": false
    },
    "legend": {
      "direction": "horizontal",
      "columns": 3,
      "symbolType": "M-2,0H2",
      "symbolSize": 100,
      "symbolStrokeWidth": 3,
      "symbolOffset": 3.5,
      "labelOffset": 9,
      "columnPadding": 2,
      "padding": 3,
      "strokeColor": "#000000",
      "fillColor": "#ffffff",
      "labelFont": "Liberation Serif",
      "labelFontSize": 10.5,
      "labelColor": "#000000"
    }
  }
}
